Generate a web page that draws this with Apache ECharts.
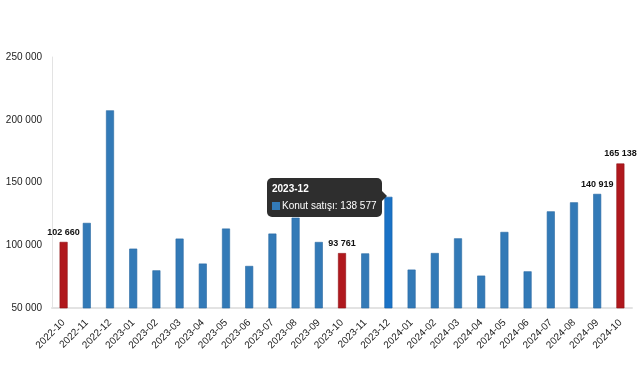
<!DOCTYPE html>
<html><head><meta charset="utf-8">
<script src="https://cdn.jsdelivr.net/npm/echarts@6/dist/echarts.min.js"></script>
<style>html,body{margin:0;padding:0;background:#fff}#c{width:641px;height:380px}</style>
</head><body><div id="c"></div>
<script>
const categories = ['2022-10','2022-11','2022-12','2023-01','2023-02','2023-03','2023-04','2023-05','2023-06','2023-07','2023-08','2023-09','2023-10','2023-11','2023-12','2024-01','2024-02','2024-03','2024-04','2024-05','2024-06','2024-07','2024-08','2024-09','2024-10'];
const sales = [102660,117800,207500,97300,80000,105300,85400,113300,83500,109300,122000,102600,93761,93500,138577,80600,93800,105500,75800,110600,79200,127000,134200,140919,165138];
const redIdx = [0,12,24];
const labelIdx = [0,12,23,24];
const highlightIdx = 14;
const seriesName = 'Konut satışı';
const yTicks = {min:50000, max:250000, interval:50000};

const fmt = v => String(v).replace(/\B(?=(\d{3})+(?!\d))/g, ' ');
const BLUE = '#337ab7', RED = '#b0181d', HI = '#1a72c6';

const data = sales.map((v,i) => {
  const o = {value: v};
  if (redIdx.includes(i)) o.itemStyle = {color: RED, borderColor:'#8e1216'};
  if (i === highlightIdx) o.itemStyle = {color: HI, borderColor:'#1560a8'};
  o.label = {show: labelIdx.includes(i)};
  return o;
});

const chart = echarts.init(document.getElementById('c'), null, {renderer:'canvas'});
chart.setOption({
  animation: false,
  textStyle: {fontFamily: '"Liberation Sans", Arial, sans-serif'},
  grid: {left: 52, right: 9, top: 57, bottom: 72, containLabel: false},
  tooltip: {
    trigger: 'item',
    triggerOn: 'none',
    alwaysShowContent: true,
    backgroundColor: 'rgba(35,35,35,0.95)',
    borderColor: '#222',
    borderWidth: 0,
    borderRadius: 5,
    padding: [5, 5, 5, 5],
    extraCssText: 'box-shadow:none;overflow:visible;',
    textStyle: {color:'#fff', fontFamily:'"Liberation Sans", Arial, sans-serif'},
    formatter: p => '<div style="position:relative;line-height:1.2">'
      + '<div style="font-weight:bold;font-size:10px;margin-bottom:5px">' + p.name + '</div>'
      + '<div style="font-size:10px;white-space:nowrap"><span style="display:inline-block;width:8px;height:8px;background:' + BLUE + ';margin-right:2px;vertical-align:-1px"></span>'
      + p.seriesName + ': ' + fmt(p.value) + '</div>'
      + '<span style="position:absolute;right:-10px;top:8px;width:0;height:0;border-top:5px solid transparent;border-bottom:5px solid transparent;border-left:5px solid rgba(35,35,35,0.95)"></span></div>',
    position: (point, params, dom, rect, size) => {
      return [rect.x - 2 - size.contentSize[0], rect.y - 19];
    }
  },
  xAxis: {
    type: 'category',
    data: categories,
    axisLine: {lineStyle: {color: '#e3e3e3', width: 2}},
    axisTick: {show: false},
    axisLabel: {rotate: 45, fontSize: 10, color: '#222', margin: 13, interval: 0}
  },
  yAxis: {
    type: 'value',
    min: yTicks.min, max: yTicks.max, interval: yTicks.interval,
    axisLine: {show: true, lineStyle: {color: '#e3e3e3'}},
    axisTick: {show: false},
    splitLine: {show: false},
    axisLabel: {fontSize: 10, color: '#222', margin: 10, formatter: v => fmt(v)}
  },
  series: [{
    name: seriesName,
    type: 'bar',
    barWidth: 8,
    data: data,
    itemStyle: {color: BLUE, borderColor: '#2a6aa3', borderWidth: 0.6},
    label: {position: 'top', distance: 5, fontSize: 9, fontWeight: 'bold', color: '#111', formatter: p => fmt(p.value)}
  }]
});
chart.dispatchAction({type:'showTip', seriesIndex:0, dataIndex: highlightIdx});
</script></body></html>
